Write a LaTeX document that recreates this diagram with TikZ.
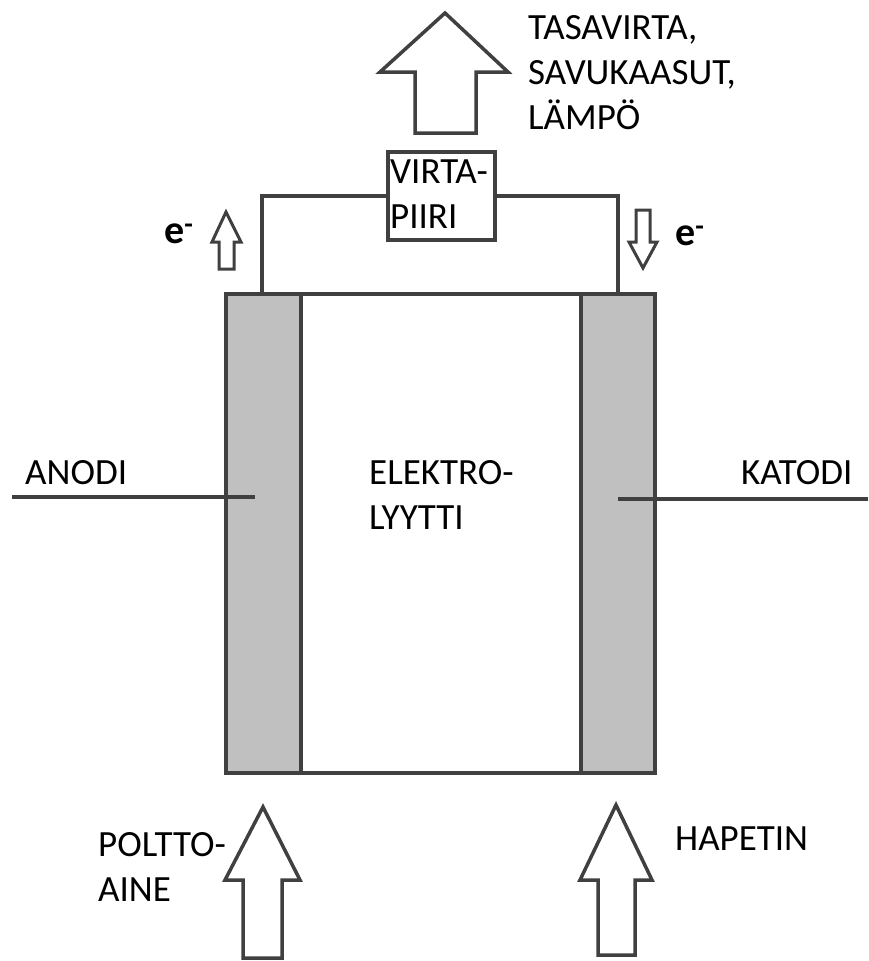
\documentclass[tikz,border=0pt]{standalone}
\usepackage{fontspec}
\setmainfont{Carlito}
\usetikzlibrary{positioning,calc}
\definecolor{wiregray}{RGB}{64,64,64}
\definecolor{electrodegray}{RGB}{192,192,192}

\begin{document}
\begin{tikzpicture}[
    x=1pt, y=-1pt,
    wire/.style={draw=wiregray, line width=3.5pt},
    cellbox/.style={wire, rectangle, fill=white, inner sep=0pt, outer sep=0pt},
    electrode/.style={cellbox, fill=electrodegray},
    blockarrow/.style={wire, fill=white, line join=miter},
    smallarrow/.style={blockarrow, line width=3pt},
    lbl/.style={font=\fontsize{37}{45}\selectfont, inner sep=0pt, anchor=north west, align=left},
    elbl/.style={font=\fontsize{40}{45}\selectfont\bfseries, inner sep=0pt, anchor=base west}
]
    \useasboundingbox (0,0) rectangle (868,961);

    % Cell
    \node[cellbox, minimum width=429pt, minimum height=479pt] (cell) at (440.5,533.5) {};
    \node[electrode, anchor=north west, minimum width=75pt, minimum height=479pt] (anode) at (cell.north west) {};
    \node[electrode, anchor=north east, minimum width=74pt, minimum height=479pt] (cathode) at (cell.north east) {};
    \node[lbl] (elektro) at (369,460) {ELEKTRO-\\LYYTTI};

    % Circuit
    \node[cellbox, minimum width=107pt, minimum height=88pt] (piiri) at (441.5,196) {};
    \node[lbl] (piiritxt) at (390,160) {VIRTA-\\PIIRI};
    \coordinate (anodetap) at (262,294);
    \coordinate (cathodetap) at (618,294);
    \draw[wire] (anodetap) |- (piiri.west);
    \draw[wire] (cathodetap) |- (piiri.east);

    % Electrons
    \draw[smallarrow] (219,269) -- (219,242) -- (212,242) -- (226,212) -- (241,242) -- (234,242) -- (234,269) -- cycle;
    \draw[smallarrow] (636,210) -- (636,242) -- (629,242) -- (643,268) -- (657,242) -- (650,242) -- (650,210) -- cycle;
    \node[elbl] (eleft) at (164,243) {e\textsuperscript{-}};
    \node[elbl] (eright) at (675,245) {e\textsuperscript{-}};

    % Electrode labels
    \node[lbl] (anodi) at (25,460) {ANODI};
    \node[lbl] (katodi) at (741,460) {KATODI};
    \coordinate (anodiend) at (12,497);
    \coordinate (anodipt) at (255,497);
    \coordinate (katodipt) at (618,499);
    \coordinate (katodiend) at (868,499);
    \draw[wire] (anodiend) -- (anodipt);
    \draw[wire] (katodipt) -- (katodiend);

    % Output
    \draw[blockarrow] (415,133) -- (415,72) -- (380,72) -- (445,13) -- (508,72) -- (476,72) -- (476,133) -- cycle;
    \node[lbl] (output) at (528,15) {TASAVIRTA,\\SAVUKAASUT,\\LÄMPÖ};

    % Inputs
    \draw[blockarrow] (243,958) -- (243,880) -- (225,880) -- (263,807) -- (300,880) -- (282,880) -- (282,958) -- cycle;
    \draw[blockarrow] (598,955) -- (598,880) -- (580,880) -- (616,805) -- (652,880) -- (635,880) -- (635,955) -- cycle;
    \node[lbl] (fuel) at (98,832) {POLTTO-\\AINE};
    \node[lbl] (oxidant) at (675,827) {HAPETIN};
\end{tikzpicture}
\end{document}
